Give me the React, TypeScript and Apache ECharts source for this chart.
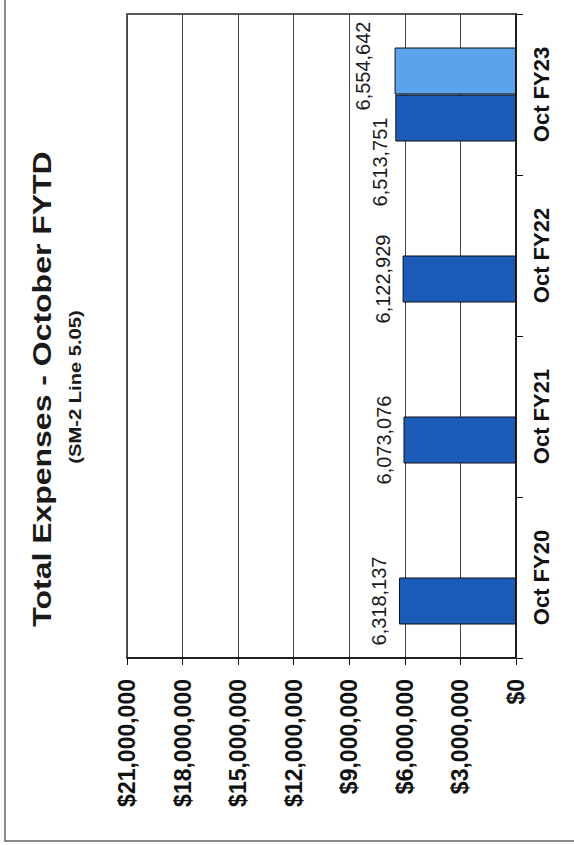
import React, { useEffect, useRef } from "react";
import * as echarts from "echarts";

const categories = ["Oct FY20", "Oct FY21", "Oct FY22", "Oct FY23"];
const expensesMain = [6318137, 6073076, 6122929, 6513751];
const expensesSecond = [null, null, null, 6554642];
const valueMin = 0;
const valueMax = 21000000;
const valueStep = 3000000;
const titleText = "Total Expenses - October FYTD";
const subtitleText = "(SM-2 Line 5.05)";

const FONT = '"Liberation Sans", Arial, Helvetica, sans-serif';

const fmt = (v: number) => String(Math.round(v)).replace(/\B(?=(\d{3})+(?!\d))/g, ",");

export default function App() {
  const ref = useRef<HTMLDivElement>(null);
  useEffect(() => {
    if (!ref.current) return;
    const chart = echarts.init(ref.current, undefined, { renderer: "svg" });
    const baseLabel = {
      show: true,
      position: "left",
      distance: 20,
      rotate: 90,
      align: "center",
      verticalAlign: "middle",
      fontFamily: FONT,
      fontSize: 20,
      color: "#1a1a1a",
      formatter: (p: any) => fmt(p.value),
    };
    const mainData = expensesMain.map((v, i) =>
      i === 3 ? { value: v, label: { offset: [-44, 5] } } : v
    );
    const secondData = expensesSecond.map((v) =>
      v == null ? null : { value: v, label: { offset: [5, -12] } }
    );
    chart.setOption({
      animation: false,
      backgroundColor: "#ffffff",
      grid: {
        left: 127,
        right: 58,
        top: 14,
        bottom: 187,
        show: true,
        borderColor: "#222",
        borderWidth: 1.5,
        backgroundColor: "transparent",
      },
      xAxis: {
        type: "value",
        inverse: true,
        min: valueMin,
        max: valueMax,
        interval: valueStep,
        axisLine: { show: true, onZero: false, lineStyle: { color: "#111", width: 1.5 } },
        axisTick: { show: true, length: 7, lineStyle: { color: "#111" } },
        axisLabel: {
          rotate: 90,
          margin: 21,
          fontFamily: FONT,
          fontSize: 23,
          fontWeight: "bold",
          color: "#111",
          formatter: (v: number) => "$" + fmt(v),
        },
        splitLine: { show: true, lineStyle: { color: "#444", width: 1 } },
      },
      yAxis: {
        type: "category",
        data: categories,
        position: "right",
        axisLine: { show: true, onZero: false, lineStyle: { color: "#111", width: 1.5 } },
        axisTick: { show: true, length: 7, lineStyle: { color: "#111" } },
        axisLabel: {
          rotate: 90,
          margin: 14,
          fontFamily: FONT,
          fontSize: 22,
          fontWeight: "bold",
          color: "#111",
        },
        splitLine: { show: false },
      },
      series: [
        {
          type: "bar",
          name: "Second",
          data: secondData,
          barWidth: 47,
          barGap: "0%",
          itemStyle: { color: "#5ba3ea", borderColor: "#111", borderWidth: 1 },
          label: baseLabel,
        },
        {
          type: "bar",
          name: "Actual",
          data: mainData,
          barWidth: 47,
          barGap: "0%",
          itemStyle: { color: "#1d5bb8", borderColor: "#111", borderWidth: 1 },
          label: baseLabel,
        },
      ],
      graphic: [
        {
          type: "rect",
          silent: true,
          shape: { x: 5, y: -20, width: 620, height: 861 },
          style: { fill: "none", stroke: "#666", lineWidth: 1.5 },
        },
        {
          type: "text",
          x: 42,
          y: 389,
          rotation: Math.PI / 2,
          scaleX: 1.23,
          style: {
            text: titleText,
            fontFamily: FONT,
            fontSize: 26,
            fontWeight: "bold",
            fill: "#1a1a1a",
            align: "center",
            verticalAlign: "middle",
          },
        },
        {
          type: "text",
          x: 76,
          y: 387,
          rotation: Math.PI / 2,
          scaleX: 1.26,
          style: {
            text: subtitleText,
            fontFamily: FONT,
            fontSize: 16,
            fontWeight: "bold",
            fill: "#1a1a1a",
            align: "center",
            verticalAlign: "middle",
          },
        },
      ],
    });
    return () => chart.dispose();
  }, []);
  return (
    <div
      ref={ref}
      style={{ position: "fixed", left: 0, top: 0, width: 574, height: 845, background: "#fff" }}
    />
  );
}
